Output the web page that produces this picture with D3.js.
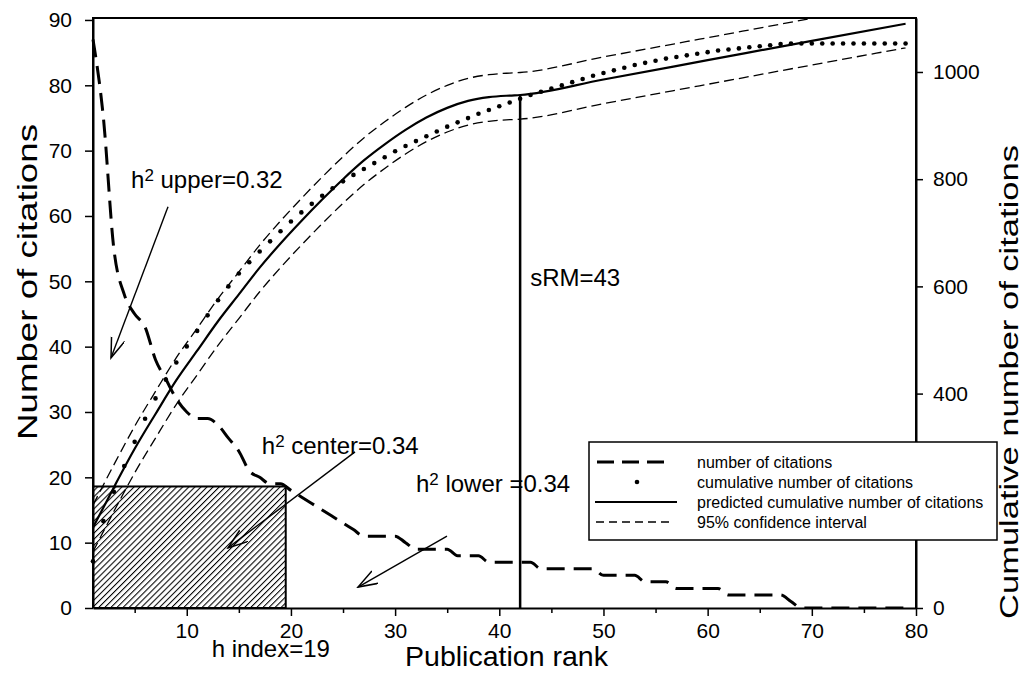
<!DOCTYPE html>
<html>
<head>
<meta charset="utf-8">
<script src="https://cdn.jsdelivr.net/npm/d3@7"></script>
<style>
  body { margin: 0; background: #fff; }
  svg text { font-family: "Liberation Sans", Arial, sans-serif; fill: #000; }
</style>
</head>
<body>
<svg id="chart" width="1025" height="700"></svg>
<script>
// citations per publication, ranked (publication 1..79)
const citations = [
  87, 75, 55, 48, 45, 43, 38, 35, 32, 30, 29,
  29, 28, 26, 24, 21, 20, 19, 19, 18, 17, 16, 15, 14, 13, 12,
  11, 11, 11, 11,
  10, 9, 9, 9, 9, 8, 8, 8, 7, 7,
  7, 7, 7,
  6, 6, 6, 6, 6, 6,
  5, 5, 5, 5,
  4, 4, 4,
  3, 3, 3, 3, 3,
  2, 2, 2, 2, 2, 2,
  1,
  0, 0, 0, 0, 0, 0, 0, 0, 0, 0, 0
];
const ranks = citations.map((d, i) => i + 1);

// predicted cumulative citations and its 95% band (read at these ranks)
const predRank  = [1, 3, 5, 7, 9, 11, 13, 15, 17, 19, 21, 23, 25, 27, 29, 31, 33, 35, 37, 39, 41, 42, 50, 60, 70, 79];
const predValue = [150, 225, 297, 362, 425, 480, 535, 585, 635, 680, 722, 762, 800, 835, 865, 892, 915, 933, 946, 953, 956, 957, 986, 1022, 1058, 1090];
const ciUpper   = [192, 267, 339, 404, 467, 522, 577, 627, 677, 722, 764, 804, 842, 877, 907, 934, 957, 975, 988, 995, 998, 999, 1028, 1064, 1100, 1132];
const ciLower   = [105, 180, 252, 317, 380, 435, 490, 540, 590, 635, 677, 717, 755, 790, 820, 847, 870, 888, 901, 908, 911, 912, 941, 977, 1013, 1045];

// indicators
const hIndex = 19;
const hBox = [19.5, 18.6];          // rank, citations
const sRM = 43;
const sRMRank = 42;

// tick values
const xMajorTicks = [10, 20, 30, 40, 50, 60, 70, 80];
const xMinorTicks = [5, 15, 25, 35, 45, 55, 65, 75];
const yLeftTicks = [0, 10, 20, 30, 40, 50, 60, 70, 80, 90];
const yRightTicks = [0, 200, 400, 600, 800, 1000];

// annotations: [rank, citations]
const annotations = [
  { label: "upper=0.32", text: [4.65, 64.3], from: [8.2, 61.4], to: [2.73, 38.3] },
  { label: "center=0.34", text: [17.2, 23.6], from: [26.15, 23.9], to: [13.96, 9.2] },
  { label: "lower =0.34", text: [32.0, 17.75], from: [34.98, 11.0], to: [26.44, 3.2] }
];

const legendItems = [
  "number of citations",
  "cumulative number of citations",
  "predicted cumulative number of citations",
  "95% confidence interval"
];

// plot area
const plotLeft = 93, plotRight = 916, plotTop = 18, plotBottom = 608;
// legend box
const legendBox = { x: 589, y: 442, w: 408, h: 98 };

const svg = d3.select("#chart");

const x = d3.scaleLinear().domain([1, 80]).range([plotLeft, plotRight]);
const yL = d3.scaleLinear().domain([0, 90.3]).range([plotBottom, plotTop]);
const yR = d3.scaleLinear().domain([0, 1100.7]).range([plotBottom, plotTop]);

const defs = svg.append("defs");

defs.append("clipPath").attr("id", "plotClip")
  .append("rect")
  .attr("x", plotLeft - 3).attr("y", plotTop)
  .attr("width", plotRight - plotLeft + 3).attr("height", plotBottom - plotTop);

// hatch for h-index box
const hatch = defs.append("pattern")
  .attr("id", "hatch")
  .attr("patternUnits", "userSpaceOnUse")
  .attr("width", 4.3).attr("height", 8)
  .attr("patternTransform", "rotate(45)");
hatch.append("line")
  .attr("x1", 0).attr("y1", -2).attr("x2", 0).attr("y2", 10)
  .attr("stroke", "#000").attr("stroke-width", 2.1);

// open arrow head
defs.append("marker")
  .attr("id", "arrow")
  .attr("markerUnits", "userSpaceOnUse")
  .attr("markerWidth", 22).attr("markerHeight", 16)
  .attr("refX", 20).attr("refY", 7)
  .attr("orient", "auto")
  .append("path")
  .attr("d", "M0,0 L20,7 L0,14")
  .attr("fill", "none")
  .attr("stroke", "#000")
  .attr("stroke-width", 1.5);

const plot = svg.append("g").attr("clip-path", "url(#plotClip)");

// h-index box
plot.append("rect")
  .attr("x", x(1))
  .attr("y", yL(hBox[1]))
  .attr("width", x(hBox[0]) - x(1))
  .attr("height", yL(0) - yL(hBox[1]))
  .attr("fill", "url(#hatch)")
  .attr("stroke", "#000")
  .attr("stroke-width", 2);

// confidence band lines
const bandLine = vals => d3.line()
  .x((d, i) => x(predRank[i]))
  .y(d => yR(d))
  .curve(d3.curveMonotoneX)(vals);

[ciUpper, ciLower].forEach(vals => {
  plot.append("path")
    .attr("d", bandLine(vals))
    .attr("fill", "none")
    .attr("stroke", "#000")
    .attr("stroke-width", 1.3)
    .attr("stroke-dasharray", "10,5");
});

// predicted cumulative
plot.append("path")
  .attr("d", bandLine(predValue))
  .attr("fill", "none")
  .attr("stroke", "#000")
  .attr("stroke-width", 2.2);

// cumulative citations dots
const cumulative = Array.from(d3.cumsum(citations));
plot.selectAll("circle.cum")
  .data(cumulative)
  .join("circle")
  .attr("class", "cum")
  .attr("cx", (d, i) => x(ranks[i]))
  .attr("cy", d => yR(d))
  .attr("r", 2.3)
  .attr("fill", "#000");

// number of citations
plot.append("path")
  .attr("d", d3.line()
    .x((d, i) => x(ranks[i]))
    .y(d => yL(d))
    .curve(d3.curveMonotoneX)(citations))
  .attr("fill", "none")
  .attr("stroke", "#000")
  .attr("stroke-width", 3)
  .attr("stroke-dasharray", "18,9");

// sRM vertical line
plot.append("line")
  .attr("x1", x(sRMRank)).attr("x2", x(sRMRank))
  .attr("y1", yL(0))
  .attr("y2", yR(predValue[predRank.indexOf(sRMRank)]))
  .attr("stroke", "#000")
  .attr("stroke-width", 2.5);

// axes
const xAxis = svg.append("g")
  .attr("transform", `translate(0,${plotBottom})`)
  .call(d3.axisBottom(x).tickValues(xMajorTicks).tickSize(8).tickPadding(7).tickSizeOuter(0));
svg.append("g")
  .attr("transform", `translate(0,${plotBottom})`)
  .call(d3.axisBottom(x).tickValues(xMinorTicks).tickSize(5).tickFormat("").tickSizeOuter(0))
  .call(g => g.select(".domain").remove());

const yAxisL = svg.append("g")
  .attr("transform", `translate(${plotLeft},0)`)
  .call(d3.axisLeft(yL).tickValues(yLeftTicks).tickSize(8).tickPadding(13).tickSizeOuter(0));

const yAxisR = svg.append("g")
  .attr("transform", `translate(${plotRight},0)`)
  .call(d3.axisRight(yR).tickValues(yRightTicks).tickFormat(d3.format("d"))
    .tickSize(7).tickPadding(10).tickSizeOuter(0));

[xAxis, yAxisL, yAxisR].forEach(g => {
  g.select(".domain").attr("stroke-width", 2);
  g.selectAll(".tick text")
    .style("font-family", "'Liberation Sans', Arial, sans-serif")
    .style("font-size", "21px");
});
svg.selectAll(".tick line").attr("stroke-width", 1.5);

// the legend sits over the right axis: labels under it are not shown
yAxisR.selectAll(".tick text")
  .filter(d => yR(d) > legendBox.y && yR(d) < legendBox.y + legendBox.h)
  .remove();

// full-length left/right axis lines and top frame
svg.append("path")
  .attr("d", `M${plotLeft},${plotBottom}V${plotTop}H${plotRight}V${plotBottom}`)
  .attr("fill", "none")
  .attr("stroke", "#000")
  .attr("stroke-width", 2);

// annotations
annotations.forEach(a => {
  svg.append("line")
    .attr("x1", x(a.from[0])).attr("y1", yL(a.from[1]))
    .attr("x2", x(a.to[0])).attr("y2", yL(a.to[1]))
    .attr("stroke", "#000")
    .attr("stroke-width", 1.4)
    .attr("marker-end", "url(#arrow)");

  const t = svg.append("text")
    .attr("x", x(a.text[0]))
    .attr("y", yL(a.text[1]))
    .style("font-size", "24px");
  t.append("tspan").text("h");
  t.append("tspan").attr("dy", -7).style("font-size", "17px").text("2");
  t.append("tspan").attr("dy", 7).text(" " + a.label);
});

svg.append("text")
  .attr("x", x(sRMRank) + 10)
  .attr("y", 286)
  .style("font-size", "24px")
  .text("sRM=" + sRM);

svg.append("text")
  .attr("x", x(12.4))
  .attr("y", plotBottom + 49)
  .style("font-size", "24px")
  .text("h index=" + hIndex);

// axis titles
svg.append("text")
  .attr("x", (plotLeft + plotRight) / 2 + 2)
  .attr("y", 666)
  .attr("text-anchor", "middle")
  .attr("textLength", 203)
  .attr("lengthAdjust", "spacingAndGlyphs")
  .style("font-size", "28px")
  .text("Publication rank");

svg.append("text")
  .attr("transform", "translate(37,282) rotate(-90)")
  .attr("text-anchor", "middle")
  .attr("textLength", 316)
  .attr("lengthAdjust", "spacingAndGlyphs")
  .style("font-size", "28px")
  .text("Number of citations");

svg.append("text")
  .attr("transform", "translate(1018,382) rotate(-90)")
  .attr("text-anchor", "middle")
  .attr("textLength", 474)
  .attr("lengthAdjust", "spacingAndGlyphs")
  .style("font-size", "26px")
  .text("Cumulative number of citations");

// legend (its box runs over the right axis, as in the reference)
const legend = svg.append("g");
legend.append("rect")
  .attr("x", legendBox.x).attr("y", legendBox.y)
  .attr("width", legendBox.w).attr("height", legendBox.h)
  .attr("fill", "#fff")
  .attr("stroke", "#000")
  .attr("stroke-width", 1.5);

const rowY = i => legendBox.y + 20 + i * 20;

legend.append("line")
  .attr("x1", 597).attr("x2", 672).attr("y1", rowY(0)).attr("y2", rowY(0))
  .attr("stroke", "#000").attr("stroke-width", 3).attr("stroke-dasharray", "17,8");
legend.append("circle")
  .attr("cx", 637).attr("cy", rowY(1)).attr("r", 2.3).attr("fill", "#000");
legend.append("line")
  .attr("x1", 595).attr("x2", 677).attr("y1", rowY(2)).attr("y2", rowY(2))
  .attr("stroke", "#000").attr("stroke-width", 2.2);
legend.append("line")
  .attr("x1", 596).attr("x2", 672).attr("y1", rowY(3)).attr("y2", rowY(3))
  .attr("stroke", "#000").attr("stroke-width", 1.3).attr("stroke-dasharray", "8,5");

legend.selectAll("text.item")
  .data(legendItems)
  .join("text")
  .attr("class", "item")
  .attr("x", 697)
  .attr("y", (d, i) => rowY(i))
  .attr("dy", "0.35em")
  .style("font-size", "16px")
  .text(d => d);
</script>
</body>
</html>
